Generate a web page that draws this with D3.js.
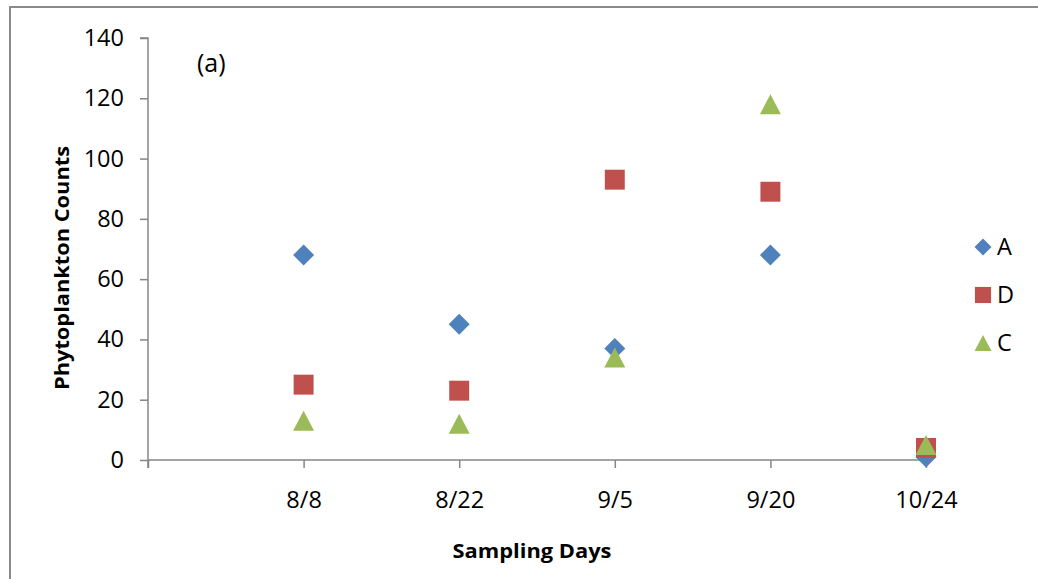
<!DOCTYPE html>
<html>
<head>
<meta charset="utf-8">
<script src="https://cdn.jsdelivr.net/npm/d3@7"></script>
<style>
  html, body { margin: 0; padding: 0; background: #fff; }
  svg { display: block; }
  text { font-family: "Open Sans", Lato, sans-serif; fill: #000; }
</style>
</head>
<body>
<svg id="chart" width="1038" height="579"></svg>
<script>
// Sampling dates (category labels along the x axis)
const days = ["8/8", "8/22", "9/5", "9/20", "10/24"];

// Phytoplankton counts per site
const seriesA = [68, 45, 37, 68, 1];
const seriesD = [25, 23, 93, 89, 4];
const seriesC = [13, 12, 34, 118, 5];

const yTicks = [0, 20, 40, 60, 80, 100, 120, 140];

const seriesNames = ["A", "D", "C"];
const seriesColors = ["#4F81BD", "#C0504D", "#9BBB59"];
const seriesShapes = ["diamond", "square", "triangle"];
const seriesValues = [seriesA, seriesD, seriesC];

const svg = d3.select("#chart");
const axisColor = "#868686";
const font = "'Open Sans', Lato, sans-serif";
const labelSize = 23.5;

// Outer chart frame
svg.append("rect")
  .attr("x", 10).attr("y", 7)
  .attr("width", 1100).attr("height", 700)
  .attr("fill", "none")
  .attr("stroke", "#8a8a8a")
  .attr("stroke-width", 2);

const plot = { left: 148, right: 926, top: 38, bottom: 460 };

// x positions: day index 1..5 on a 0..5 axis
const x = d3.scaleLinear().domain([0, days.length]).range([plot.left, plot.right]);
const y = d3.scaleLinear().domain([0, 140]).range([plot.bottom, plot.top]);

// Y axis
const yAxis = d3.axisLeft(y).tickValues(yTicks).tickSize(8).tickPadding(16).tickFormat(d3.format("d"));
const gy = svg.append("g").attr("transform", `translate(${plot.left},0)`).call(yAxis);
gy.select(".domain").attr("stroke", axisColor).attr("stroke-width", 1.5)
  .attr("d", `M-8,${plot.top}H0V${plot.bottom + 8}`);
gy.selectAll(".tick line").attr("stroke", axisColor).attr("stroke-width", 1.5);
gy.selectAll(".tick text").attr("font-size", labelSize).attr("font-family", font).attr("fill", "#000");

// X axis
const xAxis = d3.axisBottom(x).tickValues(d3.range(0, days.length + 1)).tickSize(8).tickPadding(23)
  .tickFormat(i => i === 0 ? "" : days[i - 1]);
const gx = svg.append("g").attr("transform", `translate(0,${plot.bottom})`).call(xAxis);
gx.select(".domain").attr("stroke", axisColor).attr("stroke-width", 1.5)
  .attr("d", `M${plot.left},0H${plot.right}`);
gx.selectAll(".tick line").attr("stroke", axisColor).attr("stroke-width", 1.5);
gx.selectAll(".tick text").attr("font-size", labelSize).attr("font-family", font).attr("fill", "#000");

// Marker shapes drawn around a centre point
function markerPath(shape, r) {
  const p = d3.path();
  if (shape === "diamond") {
    p.moveTo(0, -r); p.lineTo(r, 0); p.lineTo(0, r); p.lineTo(-r, 0); p.closePath();
  } else if (shape === "square") {
    p.rect(-r * 0.95, -r * 0.95, r * 1.9, r * 1.9);
  } else {
    p.moveTo(0, -r * 0.95); p.lineTo(r, r * 0.95); p.lineTo(-r, r * 0.95); p.closePath();
  }
  return p.toString();
}

// Data points
seriesValues.forEach((vals, s) => {
  svg.append("g").selectAll("path")
    .data(vals)
    .join("path")
    .attr("transform", (v, i) => `translate(${x(i + 1)},${y(v)})`)
    .attr("d", markerPath(seriesShapes[s], 10.5))
    .attr("fill", seriesColors[s]);
});

// Legend
const legend = svg.append("g").attr("transform", "translate(983,247)");
seriesNames.forEach((name, s) => {
  const row = legend.append("g").attr("transform", `translate(0,${s * 48})`);
  row.append("path").attr("d", markerPath(seriesShapes[s], 8.5)).attr("fill", seriesColors[s]);
  row.append("text").attr("x", 14).attr("y", 0).attr("dy", "0.36em")
    .attr("font-size", labelSize).text(name);
});

// Panel label
svg.append("text").attr("x", 197).attr("y", 72).attr("font-size", 25).text("(a)");

// Axis titles
svg.append("text")
  .attr("transform", `translate(69,${(plot.top + plot.bottom) / 2 + 19}) rotate(-90)`)
  .attr("text-anchor", "middle")
  .attr("font-size", 20).attr("font-weight", "bold")
  .attr("textLength", 244).attr("lengthAdjust", "spacingAndGlyphs")
  .text("Phytoplankton Counts");

svg.append("text")
  .attr("x", 532).attr("y", 558)
  .attr("text-anchor", "middle")
  .attr("font-size", 20).attr("font-weight", "bold")
  .attr("textLength", 159).attr("lengthAdjust", "spacingAndGlyphs")
  .text("Sampling Days");
</script>
</body>
</html>
